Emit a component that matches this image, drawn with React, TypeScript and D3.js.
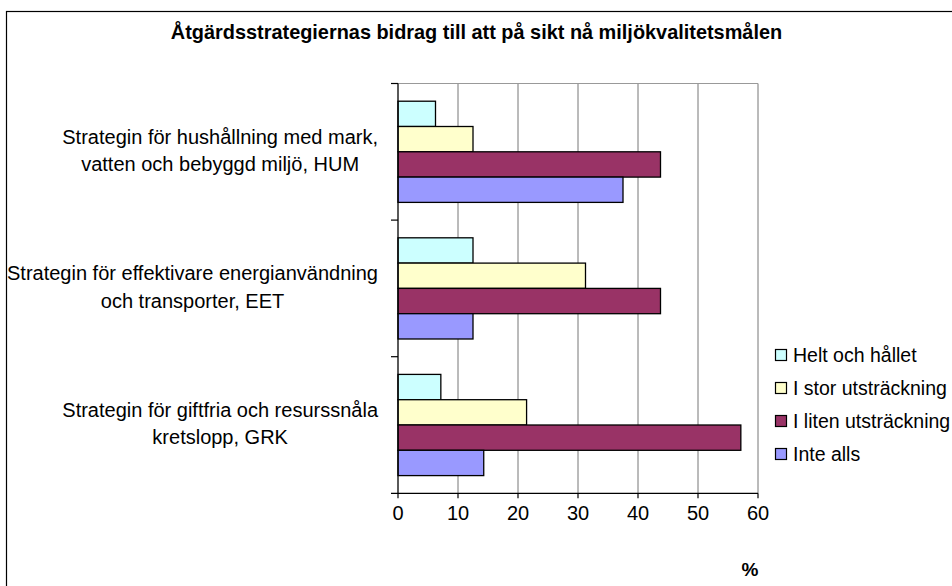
import React, { useEffect, useRef } from "react";
import * as d3 from "d3";

const title = "Åtgärdsstrategiernas bidrag till att på sikt nå miljökvalitetsmålen";
const categories = ["HUM", "EET", "GRK"];
const categoryLabels = [
  ["Strategin för hushållning med mark,", "vatten och bebyggd miljö, HUM"],
  ["Strategin för effektivare energianvändning", "och transporter, EET"],
  ["Strategin för giftfria och resurssnåla", "kretslopp, GRK"],
];
const seriesNames = ["Helt och hållet", "I stor utsträckning", "I liten utsträckning", "Inte alls"];
const seriesColors = ["#CCFFFF", "#FFFFCC", "#993366", "#9999FF"];
const heltOchHallet = [6.25, 12.5, 7.14];
const iStorUtstrackning = [12.5, 31.25, 21.43];
const iLitenUtstrackning = [43.75, 43.75, 57.14];
const inteAlls = [37.5, 12.5, 14.29];
const xTicks = [0, 10, 20, 30, 40, 50, 60];
const xAxisLabel = "%";

const W = 952;
const H = 586;
const FONT = "'Liberation Sans', Arial, Helvetica, sans-serif";

export default function App() {
  const ref = useRef<SVGSVGElement | null>(null);

  useEffect(() => {
    const svg = d3.select(ref.current);
    svg.selectAll("*").remove();

    const series = [heltOchHallet, iStorUtstrackning, iLitenUtstrackning, inteAlls];
    const plot = { left: 398, right: 758, top: 83.5, bottom: 493.3 };

    // chart border
    svg.append("rect")
      .attr("x", 6.5).attr("y", 11.5)
      .attr("width", W + 20).attr("height", H + 20)
      .attr("fill", "#fff").attr("stroke", "#000").attr("stroke-width", 1.2);

    // title
    svg.append("text")
      .attr("x", 476.5).attr("y", 39)
      .attr("text-anchor", "middle")
      .attr("font-family", FONT).attr("font-weight", "bold").attr("font-size", 19.9)
      .text(title);

    const x = d3.scaleLinear().domain([0, 60]).range([plot.left, plot.right]);
    const y = d3.scaleBand<string>().domain(categories).range([plot.top, plot.bottom]).padding(0);
    const inner = d3.scaleBand<string>().domain(seriesNames).range([0, y.bandwidth()])
      .paddingInner(0).paddingOuter(0.7);

    // gridlines
    svg.append("g").selectAll("line").data(xTicks.slice(1)).join("line")
      .attr("x1", (d) => x(d)).attr("x2", (d) => x(d))
      .attr("y1", plot.top).attr("y2", plot.bottom)
      .attr("stroke", "#777").attr("stroke-width", 1);
    // plot top border
    svg.append("line")
      .attr("x1", plot.left).attr("x2", plot.right)
      .attr("y1", plot.top).attr("y2", plot.top)
      .attr("stroke", "#999").attr("stroke-width", 1);

    // bars
    const gBars = svg.append("g");
    categories.forEach((c, ci) => {
      seriesNames.forEach((s, si) => {
        gBars.append("rect")
          .attr("x", x(0))
          .attr("y", (y(c) as number) + (inner(s) as number))
          .attr("width", x(series[si][ci]) - x(0))
          .attr("height", inner.bandwidth())
          .attr("fill", seriesColors[si])
          .attr("stroke", "#000").attr("stroke-width", 1.3);
      });
    });

    // axes
    svg.append("line")
      .attr("x1", plot.left).attr("x2", plot.left)
      .attr("y1", plot.top).attr("y2", plot.bottom)
      .attr("stroke", "#000").attr("stroke-width", 1.3);
    svg.append("line")
      .attr("x1", plot.left - 7).attr("x2", plot.right)
      .attr("y1", plot.bottom).attr("y2", plot.bottom)
      .attr("stroke", "#000").attr("stroke-width", 1.3);
    // category ticks
    const catBounds = categories.map((c) => y(c) as number);
    svg.append("g").selectAll("line").data(catBounds).join("line")
      .attr("x1", plot.left - 7).attr("x2", plot.left)
      .attr("y1", (d) => d).attr("y2", (d) => d)
      .attr("stroke", "#000").attr("stroke-width", 1.2);
    // x ticks
    svg.append("g").selectAll("line").data(xTicks).join("line")
      .attr("x1", (d) => x(d)).attr("x2", (d) => x(d))
      .attr("y1", plot.bottom).attr("y2", plot.bottom + 5)
      .attr("stroke", "#000").attr("stroke-width", 1.2);
    svg.append("g").selectAll("text").data(xTicks).join("text")
      .attr("x", (d) => x(d)).attr("y", 513)
      .attr("dy", "0.36em")
      .attr("text-anchor", "middle")
      .attr("font-family", FONT).attr("font-size", 20)
      .text((d) => String(d));

    // x axis label
    svg.append("text")
      .attr("x", 750).attr("y", 569).attr("dy", "0.36em")
      .attr("text-anchor", "middle")
      .attr("font-family", FONT).attr("font-weight", "bold").attr("font-size", 19)
      .text(xAxisLabel);

    // category labels: lines centred, block right-aligned to the axis
    const labelRight = 378;
    const lineGap = 27.5;
    categories.forEach((c, ci) => {
      const lines = categoryLabels[ci];
      const cy = (y(c) as number) + y.bandwidth() / 2 - 1.5;
      const g = svg.append("g");
      const texts = lines.map((ln, li) =>
        g.append("text")
          .attr("y", cy + (li - (lines.length - 1) / 2) * lineGap)
          .attr("dy", "0.36em")
          .attr("text-anchor", "middle")
          .attr("font-family", FONT).attr("font-size", 20)
          .text(ln)
      );
      const maxW = d3.max(texts, (t) => (t.node() as SVGTextElement).getComputedTextLength()) || 0;
      texts.forEach((t) => t.attr("x", labelRight - maxW / 2));
    });

    // legend
    const lg = svg.append("g");
    seriesNames.forEach((s, si) => {
      const cy = 355 + si * 33;
      lg.append("rect")
        .attr("x", 775.5).attr("y", cy - 5.5)
        .attr("width", 11).attr("height", 11)
        .attr("fill", seriesColors[si]).attr("stroke", "#000").attr("stroke-width", 1.2);
      lg.append("text")
        .attr("x", 793).attr("y", cy).attr("dy", "0.36em")
        .attr("font-family", FONT).attr("font-size", 19.5)
        .text(s);
    });
  }, []);

  return (
    <svg
      ref={ref}
      width={W}
      height={H}
      style={{ position: "absolute", left: 0, top: 0, background: "#fff" }}
    />
  );
}
